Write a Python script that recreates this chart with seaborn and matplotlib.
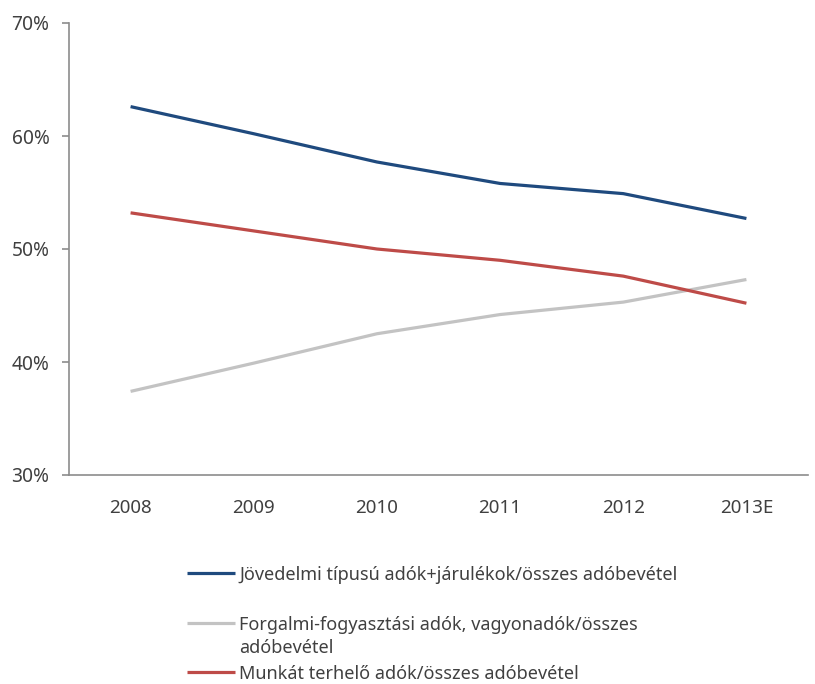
import matplotlib
matplotlib.use("Agg")
import matplotlib.pyplot as plt
from matplotlib.lines import Line2D
import seaborn as sns
import pandas as pd

years = ["2008", "2009", "2010", "2011", "2012", "2013E"]
jovedelmi = [62.6, 60.2, 57.7, 55.8, 54.9, 52.7]
forgalmi = [37.4, 39.9, 42.5, 44.2, 45.3, 47.3]
munkat = [53.2, 51.6, 50.0, 49.0, 47.6, 45.2]

labels = [
    "Jövedelmi típusú adók+járulékok/összes adóbevétel",
    "Forgalmi-fogyasztási adók, vagyonadók/összes\nadóbevétel",
    "Munkát terhelő adók/összes adóbevétel",
]
colors = ["#1F4A7E", "#C3C3C3", "#BE4B48"]
y_ticks = [30, 40, 50, 60, 70]

sns.set_style("white")
plt.rcParams["font.family"] = ["Noto Sans", "DejaVu Sans"]
text_color = "#404040"
axis_color = "#8C8C8C"

df = pd.concat(
    [pd.DataFrame({"year": years, "value": vals, "series": lab})
     for vals, lab in zip([jovedelmi, forgalmi, munkat], labels)],
    ignore_index=True,
)

fig = plt.figure(figsize=(8.15, 6.84), dpi=100)
ax = fig.add_axes([69 / 815, 1 - 475 / 684, (808 - 69) / 815, (475 - 23) / 684])

sns.lineplot(data=df, x="year", y="value", hue="series", hue_order=labels,
             palette=colors, sort=False, linewidth=2.3, ax=ax, legend=False)
for ln in ax.lines:
    ln.set_solid_capstyle("butt")
    ln.set_solid_joinstyle("round")

ax.set_xlim(-0.5, len(years) - 0.5)
ax.set_ylim(30, 70)
ax.set_yticks(y_ticks)
ax.set_yticklabels([f"{t}%" for t in y_ticks])
ax.set_xticks(range(len(years)))
ax.set_xticklabels(years)
ax.set_xticks([i - 0.5 for i in range(len(years) + 1)], minor=True)
ax.tick_params(axis="x", which="major", length=0, pad=17, labelsize=13.5, labelcolor=text_color)
ax.tick_params(axis="x", which="minor", length=5, width=1.2, color=axis_color, direction="out")
ax.tick_params(axis="y", length=5, width=1.2, color=axis_color, direction="out", pad=9,
               labelsize=13.8, labelcolor=text_color, left=True)
ax.set_xlabel("")
ax.set_ylabel("")
for side in ["top", "right"]:
    ax.spines[side].set_visible(False)
for side in ["left", "bottom"]:
    ax.spines[side].set_color(axis_color)
    ax.spines[side].set_linewidth(1.2)

# legend block under the plot area: handle row, then one row per text line
legend_rows = [[573], [623, 646], [672]]
for ln, lab, rows in zip(ax.lines, labels, legend_rows):
    yf = 1 - rows[0] / 684
    fig.add_artist(Line2D([187 / 815, 235 / 815], [yf, yf], transform=fig.transFigure,
                          color=ln.get_color(), linewidth=2.3, solid_capstyle="butt"))
    for part, yp in zip(lab.split("\n"), rows):
        fig.text(239 / 815, 1 - yp / 684, part, ha="left", va="center_baseline",
                 fontsize=13, color=text_color, transform=fig.transFigure)

fig.savefig("out.png", dpi=100)
